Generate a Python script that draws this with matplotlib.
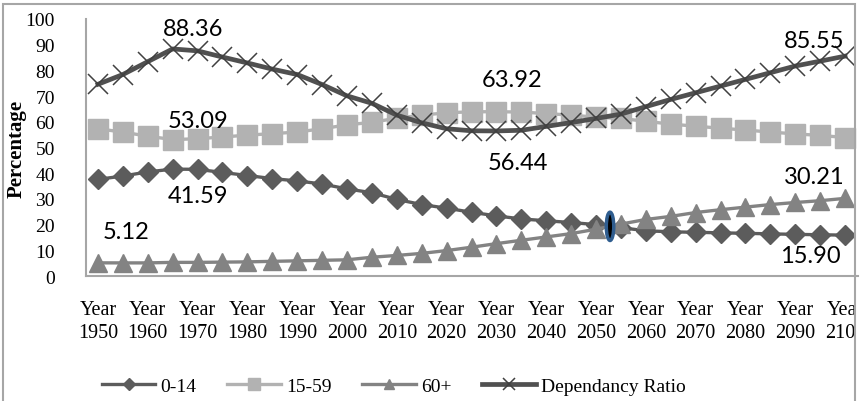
import matplotlib.pyplot as plt
from matplotlib.patches import Rectangle, Ellipse
from matplotlib.transforms import Bbox, TransformedBbox
import numpy as np

years = list(range(1950, 2101, 5))
age_0_14 = [37.6, 38.9, 40.5, 41.59, 41.5, 40.3, 39.1, 37.9, 37.0, 35.8, 33.9,
            32.4, 29.8, 27.8, 26.4, 24.8, 23.4, 22.2, 21.5, 20.8, 20.0,
            18.8, 17.6, 17.2, 17.0, 16.8, 16.6, 16.4, 16.2, 16.05, 15.90]
age_15_59 = [57.28, 56.0, 54.4, 53.09, 53.4, 54.1, 54.8, 55.4, 56.0, 57.3, 58.8,
             59.8, 61.4, 62.6, 63.5, 63.9, 63.92, 63.8, 63.2, 62.6, 61.8,
             61.3, 60.2, 59.1, 58.3, 57.5, 56.8, 56.0, 55.3, 54.7, 53.89]
age_60_plus = [5.12, 5.1, 5.1, 5.3, 5.3, 5.4, 5.5, 5.7, 5.9, 6.1, 6.3,
               7.3, 8.0, 8.8, 9.9, 11.2, 12.6, 13.9, 15.2, 16.5, 18.2,
               20.2, 22.0, 23.2, 24.7, 25.8, 26.8, 27.8, 28.6, 29.3, 30.21]
dependency = [74.6, 78.4, 83.4, 88.36, 87.6, 85.2, 82.9, 80.5, 78.4, 74.5, 70.1,
              67.2, 62.6, 59.6, 57.3, 56.5, 56.44, 56.7, 58.2, 59.7, 61.3,
              63.0, 65.9, 68.7, 71.3, 73.9, 76.5, 79.1, 81.7, 83.6, 85.55]
tick_years = years[::2]

serif = ['Liberation Serif', 'DejaVu Serif']
x = np.arange(len(years))

fig = plt.figure(figsize=(8.63, 4.02), dpi=100)
ax = fig.add_axes([85.5 / 863, 1 - 277 / 402, 772 / 863, 257 / 402])

ax.plot(x, age_0_14, color='#5c5c5c', lw=2.4, marker='D', ms=10,
        mfc='#5c5c5c', mec='#5c5c5c', label='0-14', zorder=3)
ax.plot(x, age_15_59, color='#b2b2b2', lw=2.4, marker='s', ms=14,
        mfc='#b2b2b2', mec='#b2b2b2', label='15-59', zorder=4)
ax.plot(x, age_60_plus, color='#838383', lw=2.4, marker='^', ms=13,
        mfc='#838383', mec='#838383', label='60+', zorder=5)
ax.plot(x, dependency, color='#505050', lw=3.4, marker='x', ms=14, mew=1.1,
        mec='#404040', label='Dependancy Ratio', zorder=6)

# value labels: (series, index, dx, dy) in pixels
labels = [(dependency, 3, 20, 20), (age_15_59, 3, 25, 19), (age_0_14, 3, 25, -26),
          (age_60_plus, 0, 28, 31), (age_15_59, 16, 16, 32), (dependency, 16, 21, -32),
          (dependency, 30, -31, 16), (age_60_plus, 30, -31, 22), (age_0_14, 30, -35, -20)]
for series, i, dx, dy in labels:
    ax.annotate('%.2f' % series[i], (i, series[i]), xytext=(dx, dy),
                textcoords='offset pixels', ha='center', va='center',
                fontsize=17, family=['Lato', 'DejaVu Sans'], color='black', zorder=8)

# crossover of 0-14 and 60+
diff = np.array(age_0_14) - np.array(age_60_plus)
k = int(np.where(diff < 0)[0][0]) - 1
t = diff[k] / (diff[k] - diff[k + 1])
cx = k + t
cy = age_0_14[k] + t * (age_0_14[k + 1] - age_0_14[k])
ax.add_patch(Ellipse((cx, cy), 0.3, 11, facecolor='black', edgecolor='#2f5d8f',
                     lw=2.5, zorder=10))

ax.set_xlim(-0.5, 30.5)
ax.set_ylim(0, 100)
ax.set_yticks(range(0, 101, 10))
ax.set_xticks(x[::2])
ax.set_xticklabels(['Year\n%d' % y for y in tick_years], family=serif,
                   fontsize=14.5, linespacing=1.3)
for lbl in ax.get_yticklabels():
    lbl.set_family(serif)
    lbl.set_fontsize(14)
ax.tick_params(axis='both', length=0)
ax.tick_params(axis='x', pad=17)
ax.tick_params(axis='y', pad=22)
ax.set_ylabel('Percentage', family=serif, fontsize=15, fontweight='bold')
ax.yaxis.set_label_coords(-0.076, 0.5)

for s in ['top', 'right']:
    ax.spines[s].set_visible(False)
for s in ['left', 'bottom']:
    ax.spines[s].set_color('#a6a6a6')
    ax.spines[s].set_linewidth(1.5)

# chart frame; year labels get cut at its right edge
fig.add_artist(Rectangle((3 / 863, -0.05), 852 / 863, 1.05 - 5 / 402,
                         transform=fig.transFigure, fill=False,
                         edgecolor='#a6a6a6', lw=1.5))
clip = TransformedBbox(Bbox([[0, 0], [854 / 863, 1]]), fig.transFigure)
for lbl in ax.get_xticklabels():
    lbl.set_clip_box(clip)
    lbl.set_clip_on(True)

fig.legend(loc='center left', bbox_to_anchor=(102 / 863, 1 - 387 / 402), ncol=4,
           frameon=False, prop={'family': serif, 'size': 14}, handlelength=2.75,
           handletextpad=0.25, columnspacing=1.6, markerscale=0.6,
           borderpad=0, borderaxespad=0)

fig.savefig('out.png', dpi=100)
